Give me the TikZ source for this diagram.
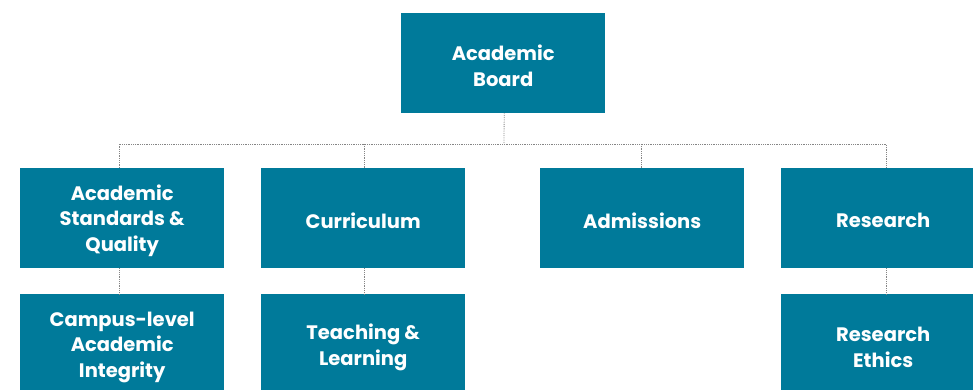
\documentclass[tikz,border=0pt]{standalone}
\usepackage{fontspec}
\setmainfont{Poppins}
\definecolor{teal}{HTML}{007A9A}
\definecolor{dotgray}{HTML}{858585}
\begin{document}
\begin{tikzpicture}[x=1pt,y=1pt,
  box/.style={fill=teal, minimum width=204pt, minimum height=100pt,
    inner sep=0pt, anchor=north west},
  lbl/.style={text=white, inner sep=0pt, align=center, font=\fontsize{19.5}{25.5}\selectfont\bfseries},
  link/.style={draw=dotgray, line width=0.8pt, densely dotted}]
\useasboundingbox (0,0) rectangle (973,390);
\clip (0,0) rectangle (973,390);
\node[box] (top) at (401,377) {};
\node[box] (b1) at (20,222) {};
\node[box] (b2) at (261,222) {};
\node[box] (b3) at (540,222) {};
\node[box] (b4) at (781,222) {};
\node[box] (c1) at (20,96) {};
\node[box] (c2) at (261,96) {};
\node[box] (c4) at (781,96) {};
\node[lbl] (ttop) at ([yshift=-2.5pt]top.center) {Academic\\Board};
\node[lbl] (tb1) at ([yshift=-2.5pt]b1.center) {Academic\\Standards \&\\Quality};
\node[lbl] (tb2) at ([yshift=-2.5pt]b2.center) {Curriculum};
\node[lbl] (tb3) at ([yshift=-2.5pt]b3.center) {Admissions};
\node[lbl] (tb4) at ([yshift=-2.5pt]b4.center) {Research};
\node[lbl] (tc1) at ([yshift=-3pt]c1.center) {Campus-level\\Academic\\Integrity};
\node[lbl] (tc2) at ([yshift=-3pt]c2.center) {Teaching \&\\Learning};
\node[lbl] (tc4) at ([yshift=-3pt]c4.center) {Research\\Ethics};
\coordinate (bus) at (504,246);
\draw[link] ([xshift=1pt]top.south) -- (bus);
\draw[link] ([xshift=-3pt]b1.north) |- ([xshift=3pt]b4.north |- bus) -- ([xshift=3pt]b4.north);
\draw[link] ([xshift=1pt]b2.north |- bus) -- ([xshift=1pt]b2.north);
\draw[link] ([xshift=-1pt]b3.north |- bus) -- ([xshift=-1pt]b3.north);
\draw[link] ([xshift=-3pt]b1.south) -- ([xshift=-3pt]c1.north);
\draw[link] ([xshift=1pt]b2.south) -- ([xshift=1pt]c2.north);
\draw[link] ([xshift=3pt]b4.south) -- ([xshift=3pt]c4.north);
\end{tikzpicture}
\end{document}
